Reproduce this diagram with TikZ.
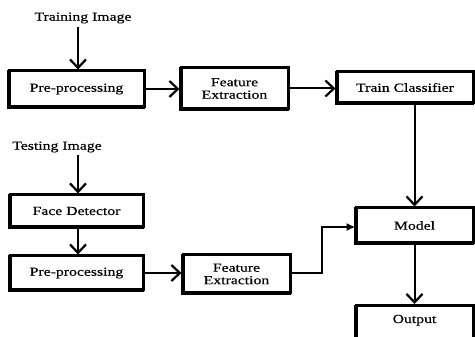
\documentclass[tikz,border=0pt]{standalone}
\usepackage{fontspec}
\setmainfont[FakeStretch=1.28,FakeBold=0.35]{Liberation Serif}
\usetikzlibrary{arrows.meta}
\begin{document}
\begin{tikzpicture}[x=1pt,y=-1pt,
  blk/.style={draw=black,line width=3pt,rectangle,fill=white,inner sep=0pt,align=center,
    font=\fontsize{12.3}{12.5}\selectfont,
    preaction={draw=black,line width=3pt,transform canvas={shift={(-1,1)}}}},
  lbl/.style={inner sep=0pt,font=\fontsize{12.3}{13}\selectfont},
  arr/.style={line width=2pt,-{Straight Barb[length=8.5pt,width=16pt,line width=2.2pt]}},
  tri/.style={line width=1.8pt,-{Triangle[length=8pt,width=7pt]}}]
\useasboundingbox (0,0) rectangle (475,337);
\node[lbl] (ti) at (83,18) {Training Image};
\node[blk,minimum width=135pt,minimum height=36pt] (pre1) at (76.5,89) {Pre-processing};
\node[blk,minimum width=107pt,minimum height=41pt] (fe1) at (234.5,88.5) {Feature\\Extraction};
\node[blk,minimum width=136pt,minimum height=31pt] (tc) at (405,87.5) {Train Classifier};
\node[lbl] (tsi) at (57,147) {Testing Image};
\node[blk,minimum width=133pt,minimum height=32pt] (fd) at (76.5,211) {Face Detector};
\node[blk,minimum width=133pt,minimum height=34pt] (pre2) at (76.5,273) {Pre-processing};
\node[blk,minimum width=107pt,minimum height=38pt] (fe2) at (236.5,274) {Feature\\Extraction};
\node[blk,minimum width=117pt,minimum height=35pt] (mod) at (414.5,225.5) {Model};
\node[blk,minimum width=117pt,minimum height=42pt,text height=9pt,text depth=16pt,anchor=north] (out) at (414.5,304) {Output};
\coordinate (k1) at (322,273);
\coordinate (k2) at (322,227);
\draw[arr] (78,27) -- (pre1.north -| 78,0);
\draw[arr] (pre1.east) -- (pre1.east -| fe1.west);
\draw[arr] (fe1.east) -- (fe1.east -| tc.west);
\draw[arr] (mod.north |- tc.south) -- (mod.north);
\draw[arr] (78,155) -- (fd.north -| 78,0);
\draw[arr] (fd.south -| 78,0) -- (pre2.north -| 78,0);
\draw[arr] (pre2.east) -- (pre2.east -| fe2.west);
\draw[tri] (fe2.east |- k1) -- (k1) -- (k2) -- (k2 -| mod.west);
\draw[arr] (mod.south) -- (out.north);
\end{tikzpicture}
\end{document}
